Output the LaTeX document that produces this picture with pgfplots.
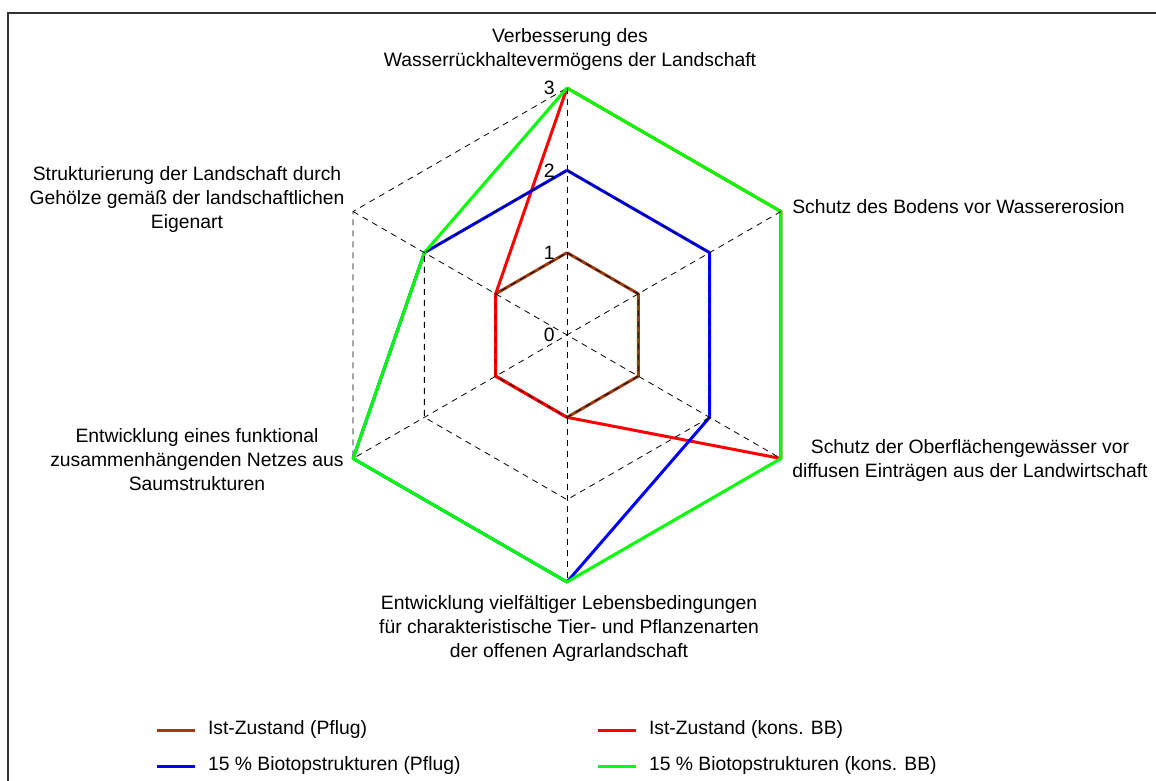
\documentclass[border=0pt]{standalone}
\usepackage{fontspec}
\setmainfont{Liberation Sans}
\usepackage{pgfplots}
\pgfplotsset{compat=1.18}
\usepgfplotslibrary{polar}
\definecolor{cbrown}{RGB}{158,60,14}
\definecolor{cred}{RGB}{255,0,0}
\definecolor{cblue}{RGB}{0,0,255}
\definecolor{cgreen}{RGB}{0,255,0}
\newcommand{\lf}{\fontsize{14.5}{18}\selectfont}
\begin{document}
\begin{tikzpicture}[x=0.75pt,y=0.75pt]
\useasboundingbox (0,0) rectangle (1156,781);
\begin{polaraxis}[
  at={(425.25pt,334.5pt)}, anchor=center,
  scale only axis, width=370.5pt, height=370.5pt,
  ymin=0, ymax=3, hide axis, clip=false,
  legend columns=2,
  legend image code/.code={\draw[#1] (0pt,0pt) -- (28.5pt,0pt);},
  legend style={at={(axis description cs:-0.334,-0.337)}, anchor=west,
    draw=none, fill=none, inner sep=0pt, outer sep=0pt, row sep=13.5pt,
    nodes={inner sep=0pt, text height=10pt, text depth=3.5pt, font=\lf},
    /tikz/every odd column/.style={column sep=9pt},
    /tikz/every even column/.style={column sep=0pt}},
  data/.style={line width=2.25pt, line join=round},
  gridl/.style={forget plot, line width=0.6pt, black, dash pattern=on 4.5pt off 3.75pt},
]
% outer grid ring first, so the data lines lie over it
\addplot[gridl] coordinates {(90,3) (30,3) (-30,3) (-90,3) (210,3) (150,3) (90,3)};
% angles: 90, 30, -30, -90, 210, 150
\addplot[data, cbrown] coordinates {(90,1) (30,1) (-30,1) (-90,1) (210,1) (150,1) (90,1)};
\addlegendentry{\makebox[291pt][l]{Ist-Zustand (Pflug)}}
\addplot[data, cred] coordinates {(90,3) (30,3) (-30,3) (-90,1) (210,1) (150,1) (90,3)};
\addlegendentry{\makebox[291pt][l]{Ist-Zustand (kons. BB)}}
\addplot[data, cblue] coordinates {(90,2) (30,2) (-30,2) (-90,3) (210,3) (150,2) (90,2)};
\addlegendentry{\makebox[291pt][l]{15 \% Biotopstrukturen (Pflug)}}
\addplot[data, cgreen] coordinates {(90,3) (30,3) (-30,3) (-90,3) (210,3) (150,2) (90,3)};
\addlegendentry{\makebox[291pt][l]{15 \% Biotopstrukturen (kons. BB)}}
% grid
\addplot[gridl] coordinates {(90,1) (30,1) (-30,1) (-90,1) (210,1) (150,1) (90,1)};
\addplot[gridl] coordinates {(90,2) (30,2) (-30,2) (-90,2) (210,2) (150,2) (90,2)};
\addplot[gridl] coordinates {(90,3) (270,3)};
\addplot[gridl] coordinates {(30,3) (210,3)};
\addplot[gridl] coordinates {(150,3) (330,3)};
\foreach \r in {0,1,2,3} {
  \edef\tmp{\noexpand\node[anchor=east, inner sep=0pt, font=\noexpand\lf] at (axis cs:90,\r) [xshift=-9pt] {\r};}
  \tmp
}
\end{polaraxis}
\draw[line width=1.1pt, black!80] (8,0) -- (8,768) -- (1156,768);
\begin{scope}[every node/.style={inner sep=0pt, align=center, font=\lf}]
\node at (570,731) {Verbesserung des\\Wasserrückhaltevermögens der Landschaft};
\node[anchor=west] at (792,574) {Schutz des Bodens vor Wassererosion};
\node[anchor=west] at (792,320) {Schutz der Oberflächengewässer vor\\diffusen Einträgen aus der Landwirtschaft};
\node at (569,152) {Entwicklung vielfältiger Lebensbedingungen\\für charakteristische Tier- und Pflanzenarten\\der offenen Agrarlandschaft};
\node at (187,581) {Strukturierung der Landschaft durch\\Gehölze gemäß der landschaftlichen\\Eigenart};
\node at (197,321) {Entwicklung eines funktional\\zusammenhängenden Netzes aus\\Saumstrukturen};
\end{scope}
\end{tikzpicture}
\end{document}
